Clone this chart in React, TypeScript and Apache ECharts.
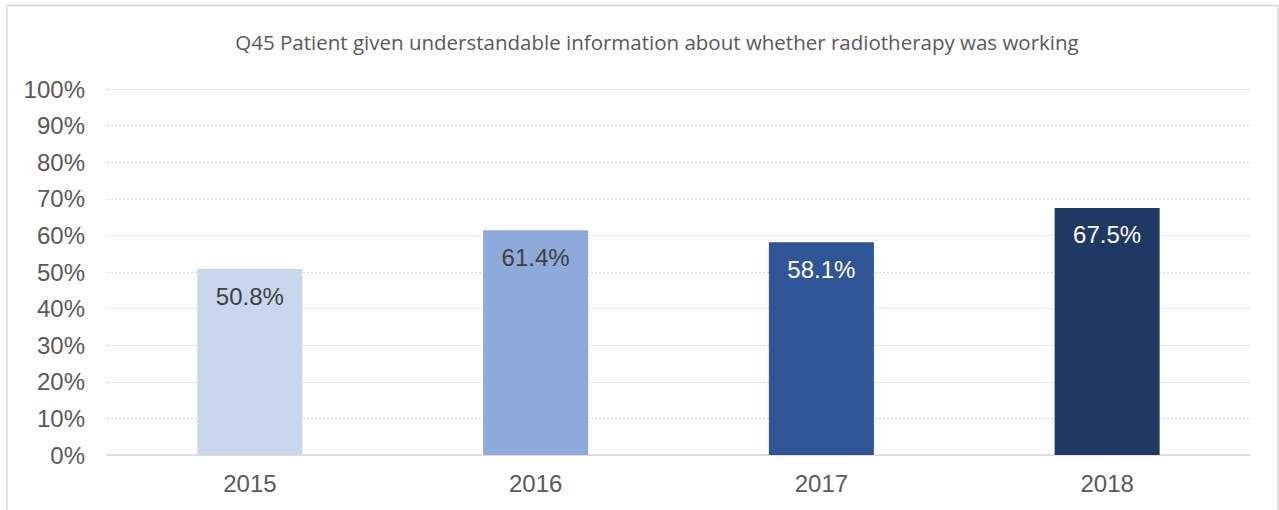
import React, { useEffect, useRef } from "react";
import * as echarts from "echarts";

const categories = ["2015", "2016", "2017", "2018"];
const values = [50.8, 61.4, 58.1, 67.5];
const barColors = ["#c9d6ee", "#8eaadb", "#2f5597", "#203864"];
const labelColors = ["#404040", "#404040", "#ffffff", "#ffffff"];
const title = "Q45 Patient given understandable information about whether radiotherapy was working";

export default function App() {
  const ref = useRef<HTMLDivElement>(null);
  useEffect(() => {
    if (!ref.current) return;
    const chart = echarts.init(ref.current, null, { renderer: "svg" });
    chart.setOption({
      animation: false,
      backgroundColor: "#ffffff",
      title: {
        text: title,
        left: 652,
        textAlign: "center",
        top: 26,
        textStyle: { fontFamily: "Open Sans", fontSize: 20.5, fontWeight: "normal", color: "#595959" },
      },
      graphic: [
        {
          type: "rect",
          shape: { x: 7, y: 5.5, width: 1271, height: 530 },
          style: { fill: "none", stroke: "#d9d9d9", lineWidth: 1.5 },
          silent: true,
        },
      ],
      grid: { left: 107, right: 29, top: 89, bottom: 55, containLabel: false },
      xAxis: {
        type: "category",
        data: categories,
        axisLine: { show: true, lineStyle: { color: "#d9d9d9", width: 1.5 } },
        axisTick: { show: false },
        axisLabel: { color: "#595959", fontSize: 24, fontFamily: "Liberation Sans, Arial", margin: 16 },
      },
      yAxis: {
        type: "value",
        min: 0,
        max: 100,
        interval: 10,
        axisLine: { show: false },
        axisTick: { show: false },
        axisLabel: {
          formatter: "{value}%",
          color: "#595959",
          fontSize: 24,
          fontFamily: "Liberation Sans, Arial",
          margin: 22,
        },
        splitLine: { lineStyle: { color: "#d9d9d9", type: [2, 2], width: 1 } },
      },
      series: [
        {
          type: "bar",
          barWidth: 105,
          data: values.map((v, i) => ({
            value: v,
            itemStyle: { color: barColors[i] },
            label: { color: labelColors[i] },
          })),
          label: {
            show: true,
            position: "insideTop",
            distance: 15,
            fontSize: 24,
            fontFamily: "Liberation Sans, Arial",
            formatter: (p: any) => p.value.toFixed(1) + "%",
          },
        },
      ],
    });
    return () => chart.dispose();
  }, []);
  return (
    <div
      ref={ref}
      style={{ position: "absolute", left: 0, top: 0, width: 1279, height: 510 }}
    />
  );
}
